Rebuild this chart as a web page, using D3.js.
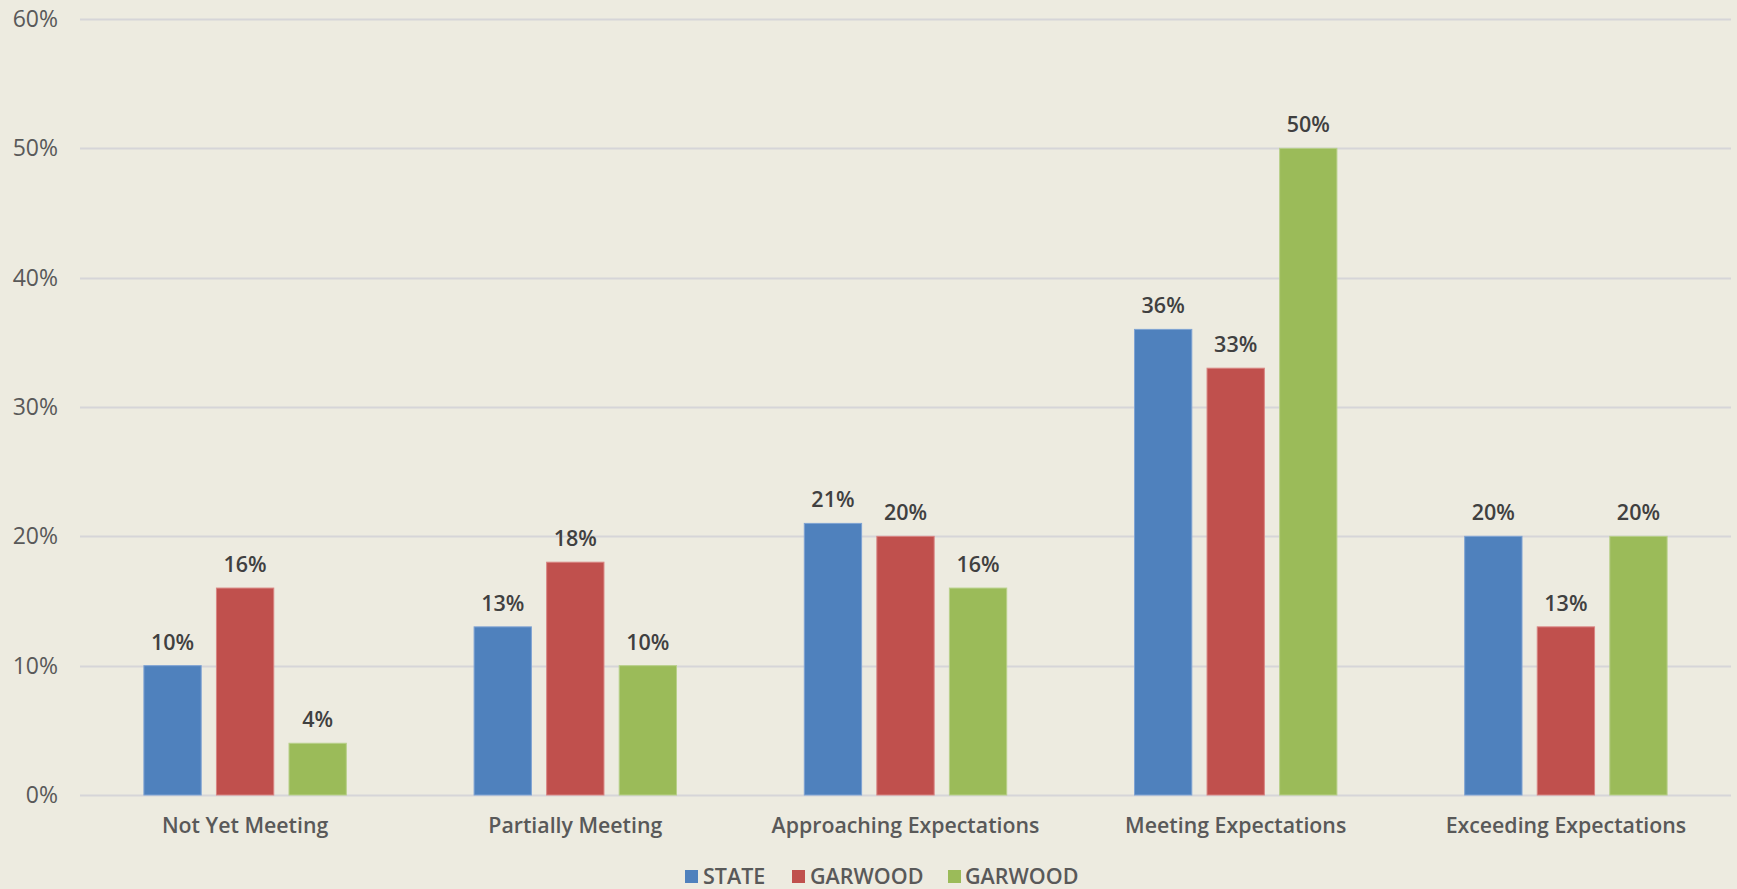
<!DOCTYPE html>
<html><head><meta charset="utf-8">
<script src="https://cdn.jsdelivr.net/npm/d3@7"></script>
<style>
html,body{margin:0;padding:0;background:#EDEBE0;}
svg{display:block;}
text{font-family:"Open Sans","Liberation Sans",sans-serif;}
</style></head>
<body><svg id="chart" width="1737" height="889"></svg>
<script>
const categories = ["Not Yet Meeting","Partially Meeting","Approaching Expectations","Meeting Expectations","Exceeding Expectations"];
const seriesNames = ["STATE","GARWOOD","GARWOOD"];
const stateValues = [10,13,21,36,20];
const garwoodRedValues = [16,18,20,33,13];
const garwoodGreenValues = [4,10,16,50,20];
const yTicks = [0,10,20,30,40,50,60];
const colors = ["#4F81BD","#C0504D","#9BBB59"];
const strokes = ["#7FA3D3","#D98583","#B8D08A"];

const series = [stateValues, garwoodRedValues, garwoodGreenValues];
const W = 1737, H = 889;
const m = {left:80, right:6, top:19, bottom:94};
const svg = d3.select("#chart");
svg.append("rect").attr("width",W).attr("height",H).attr("fill","#EDEBE0");

const x = d3.scaleBand().domain(categories).range([m.left, W-m.right]).paddingInner(0).paddingOuter(0);
const y = d3.scaleLinear().domain([0,60]).range([H-m.bottom, m.top]);
const x1 = d3.scaleBand().domain([0,1,2]).range([0, x.bandwidth()*0.613]).paddingInner(0.21).paddingOuter(0);
const groupOffset = (x.bandwidth() - x.bandwidth()*0.613)/2;

// gridlines
svg.append("g").selectAll("line").data(yTicks).join("line")
  .attr("x1", m.left).attr("x2", W-m.right)
  .attr("y1", d=>Math.round(y(d))+0.5).attr("y2", d=>Math.round(y(d))+0.5)
  .attr("stroke","#D6D5D8").attr("stroke-width",2);

// y axis labels
const yAxis = d3.axisLeft(y).tickValues(yTicks).tickFormat(d=>d+"%").tickSize(0).tickPadding(0);
const ya = svg.append("g").attr("transform",`translate(${m.left-22},0)`).call(yAxis);
ya.select(".domain").remove();
ya.selectAll("text").attr("font-size",23).attr("fill","#595959")
  .attr("font-family",'"Open Sans","Liberation Sans",sans-serif');

// bars
series.forEach((vals,si)=>{
  const g = svg.append("g");
  g.selectAll("rect").data(vals).join("rect")
    .attr("x",(d,i)=>x(categories[i])+groupOffset+x1(si))
    .attr("y",d=>y(d))
    .attr("width",x1.bandwidth())
    .attr("height",d=>y(0)-y(d))
    .attr("fill",colors[si])
    .attr("stroke",strokes[si]).attr("stroke-width",1);
  g.selectAll("text").data(vals).join("text")
    .attr("x",(d,i)=>x(categories[i])+groupOffset+x1(si)+x1.bandwidth()/2)
    .attr("y",d=>y(d)-16)
    .attr("text-anchor","middle")
    .attr("font-size",21.5).attr("font-weight",600).attr("fill","#404040")
    .text(d=>d+"%");
});

// x axis labels
const xAxis = d3.axisBottom(x).tickSize(0).tickPadding(0);
const xa = svg.append("g").attr("transform",`translate(0,${y(0)})`).call(xAxis);
xa.select(".domain").remove();
xa.selectAll("text").attr("font-size",21.3).attr("fill","#595959").attr("dy",0).attr("y",38)
  .attr("font-weight",600)
  .attr("font-family",'"Open Sans","Liberation Sans",sans-serif');

// legend
const legendItems = [{x:685, tx:703},{x:792, tx:810},{x:948, tx:965}];
const lg = svg.append("g");
seriesNames.forEach((n,i)=>{
  lg.append("rect").attr("x",legendItems[i].x).attr("y",870).attr("width",13).attr("height",13).attr("fill",colors[i]);
  lg.append("text").attr("x",legendItems[i].tx).attr("y",884).attr("font-size",21.5).attr("font-weight",600)
    .attr("fill","#595959").text(n);
});
</script></body></html>
